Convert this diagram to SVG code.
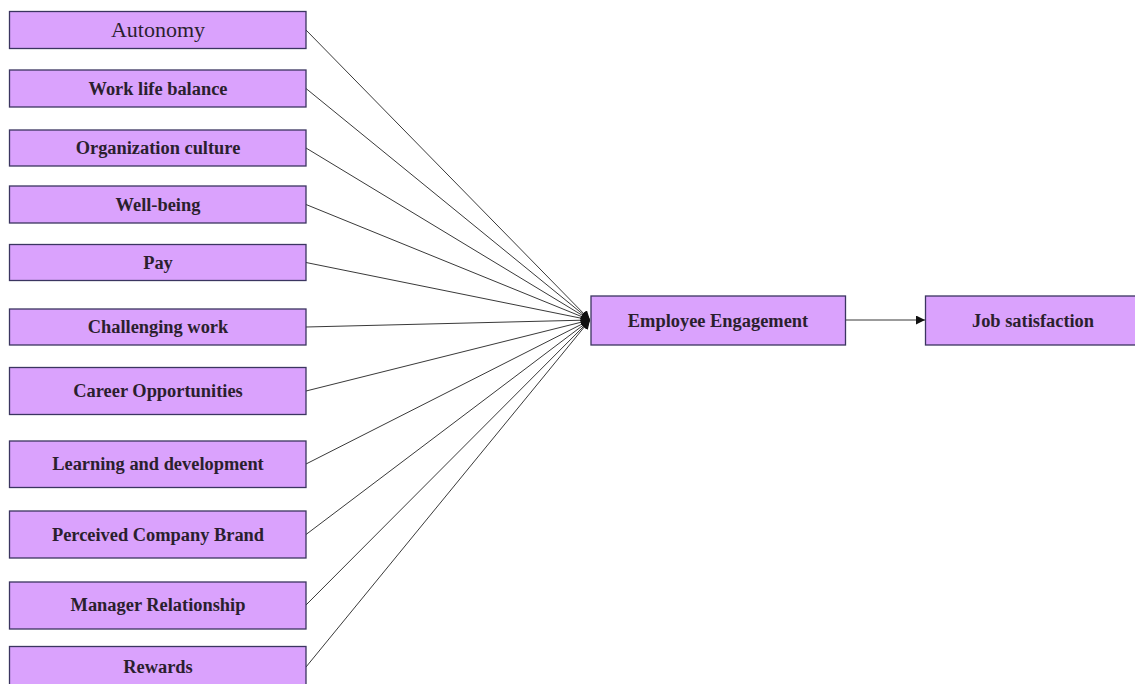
<svg xmlns="http://www.w3.org/2000/svg" width="1135" height="684" viewBox="0 0 1135 684">
<style>
.box{fill:#daa2fd;stroke:#3b3560;stroke-width:1.3}
.t{font-family:"Liberation Serif",serif;font-size:18.4px;font-weight:bold;fill:#2b1f2e;text-anchor:middle}
.tn{font-family:"Liberation Serif",serif;font-size:22px;fill:#2b1f2e;text-anchor:middle}
.c{stroke:#222;stroke-width:0.9;fill:none;marker-end:url(#ah)}
</style>
<defs>
<marker id="ah" viewBox="0 0 10 10" refX="10" refY="5" markerWidth="9" markerHeight="9" markerUnits="userSpaceOnUse" orient="auto">
<path d="M0,0 L10,5 L0,10 z" fill="#111"/>
</marker>
</defs>
<rect width="1135" height="684" fill="#fff"/>
<g id="connectors">
<line class="c" x1="306" y1="30" x2="590" y2="320"/>
<line class="c" x1="306" y1="88.5" x2="590" y2="320"/>
<line class="c" x1="306" y1="148" x2="590" y2="320"/>
<line class="c" x1="306" y1="204.5" x2="590" y2="320"/>
<line class="c" x1="306" y1="262.5" x2="590" y2="320"/>
<line class="c" x1="306" y1="327" x2="590" y2="320"/>
<line class="c" x1="306" y1="391" x2="590" y2="320"/>
<line class="c" x1="306" y1="464" x2="590" y2="320"/>
<line class="c" x1="306" y1="534.5" x2="590" y2="320"/>
<line class="c" x1="306" y1="605" x2="590" y2="320"/>
<line class="c" x1="306" y1="667" x2="590" y2="320"/>
<line class="c" x1="846" y1="320" x2="925" y2="320"/>
</g>
<g id="autonomy"><rect class="box" x="9.5" y="11.5" width="296.5" height="37"/><text class="tn" x="158" y="36.5">Autonomy</text></g>
<g id="work-life"><rect class="box" x="9.5" y="70" width="296.5" height="37"/><text class="t" x="158" y="94.5">Work life balance</text></g>
<g id="org-culture"><rect class="box" x="9.5" y="130" width="296.5" height="36"/><text class="t" x="158" y="154">Organization culture</text></g>
<g id="well-being"><rect class="box" x="9.5" y="186" width="296.5" height="37"/><text class="t" x="158" y="210.5">Well-being</text></g>
<g id="pay"><rect class="box" x="9.5" y="244.5" width="296.5" height="36"/><text class="t" x="158" y="268.5">Pay</text></g>
<g id="challenging"><rect class="box" x="9.5" y="309" width="296.5" height="36"/><text class="t" x="158" y="333">Challenging work</text></g>
<g id="career"><rect class="box" x="9.5" y="367.5" width="296.5" height="47"/><text class="t" x="158" y="397">Career Opportunities</text></g>
<g id="learning"><rect class="box" x="9.5" y="441" width="296.5" height="46.5"/><text class="t" x="158" y="470">Learning and development</text></g>
<g id="brand"><rect class="box" x="9.5" y="511" width="296.5" height="47"/><text class="t" x="158" y="540.5">Perceived Company Brand</text></g>
<g id="manager"><rect class="box" x="9.5" y="582" width="296.5" height="47"/><text class="t" x="158" y="611">Manager Relationship</text></g>
<g id="rewards"><rect class="box" x="9.5" y="646.5" width="296.5" height="45"/><text class="t" x="158" y="673">Rewards</text></g>
<g id="engagement"><rect class="box" x="591" y="296" width="254.5" height="49"/><text class="t" x="718" y="327">Employee Engagement</text></g>
<g id="job-satisfaction"><rect class="box" x="925.5" y="296" width="215" height="49"/><text class="t" x="1033" y="327">Job satisfaction</text></g>
</svg>
